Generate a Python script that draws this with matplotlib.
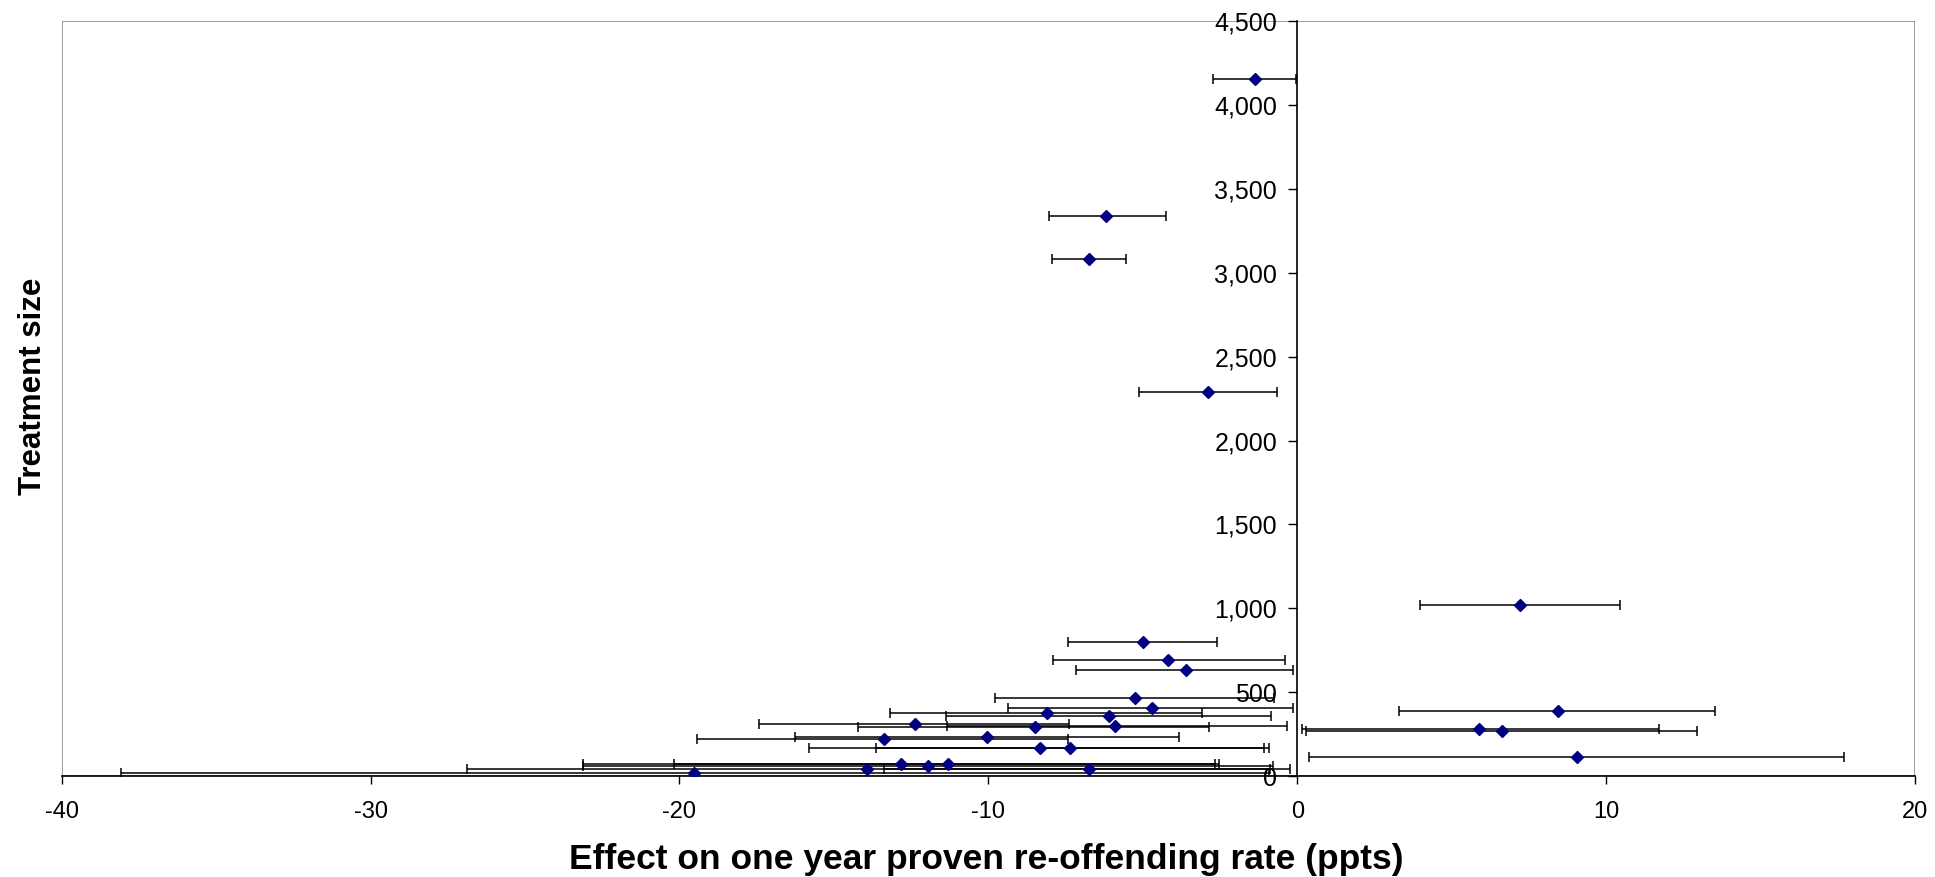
import matplotlib
matplotlib.use("Agg")
import matplotlib.pyplot as plt
from matplotlib.patches import Rectangle
from matplotlib.ticker import FuncFormatter
import numpy as np

plt.rcParams['font.family'] = ['Liberation Sans', 'DejaVu Sans']
plt.rcParams['axes.unicode_minus'] = False

# Effect estimate (ppts), treatment size, lower and upper confidence limits
effect = [-1.36, -6.18, -6.73, -2.88, 7.20,
          -4.99, -4.18, -3.61, -5.26, -4.70, -8.11, -6.08,
          -12.39, -8.48, -5.91, -13.38, -10.03, -8.32, -7.36,
          -19.54, -13.93, -12.83, -11.95, -11.30, -6.73,
          8.43, 5.89, 6.62, 9.07]
size = [4155, 3338, 3083, 2291, 1020,
        798, 694, 633, 466, 406, 379, 361,
        309, 291, 299, 224, 232, 168, 168,
        19, 45, 73, 63, 73, 45,
        388, 281, 271, 114]
lower = [-2.73, -8.05, -7.94, -5.13, 3.97,
         -7.43, -7.91, -7.15, -9.79, -9.35, -13.17, -11.37,
         -17.42, -14.22, -11.33, -19.42, -16.25, -15.82, -13.63,
         -38.07, -26.88, -23.12, -23.12, -20.17, -13.38,
         3.31, 0.15, 0.28, 0.39]
upper = [-0.05, -4.25, -5.53, -0.64, 10.45,
         -2.60, -0.40, -0.13, -0.76, -0.15, -3.08, -0.84,
         -7.38, -2.87, -0.34, -7.42, -3.84, -0.90, -1.08,
         -0.90, -0.87, -2.53, -0.80, -2.65, -0.24,
         13.51, 11.70, 12.93, 17.69]

x_ticks = [-40, -30, -20, -10, 0, 10, 20]
y_ticks = [0, 500, 1000, 1500, 2000, 2500, 3000, 3500, 4000, 4500]

W, H = 1935, 877
fig = plt.figure(figsize=(W / 100, H / 100), dpi=100)
ax = fig.add_axes([61.7 / W, 1 - 776.2 / H, (1915 - 61.7) / W, (776.2 - 21) / H])

e = np.array(effect)
lo = np.array(lower)
hi = np.array(upper)
ax.errorbar(e, size, xerr=[e - lo, hi - e], fmt='D', color='#000080',
            markersize=6.5, markeredgecolor='#000080', ecolor='black',
            elinewidth=1.1, capsize=3.3, capthick=1.1, zorder=3)

ax.set_xlim(-40, 20)
ax.set_ylim(0, 4500)
ax.set_xticks(x_ticks)
ax.set_yticks(y_ticks)
ax.yaxis.set_major_formatter(FuncFormatter(lambda v, p: f"{int(v):,}"))

for s in ['top', 'right']:
    ax.spines[s].set_visible(False)
ax.spines['left'].set_position(('data', 0))
ax.spines['bottom'].set_position(('data', 0))
ax.spines['left'].set_color('black')
ax.spines['bottom'].set_color('black')
ax.spines['left'].set_linewidth(1.2)
ax.spines['bottom'].set_linewidth(1.2)
ax.add_patch(Rectangle((0, 0), 1, 1, transform=ax.transAxes, fill=False,
                       edgecolor='#8c8c8c', linewidth=1.2, zorder=0))

ax.tick_params(axis='x', direction='out', length=6, width=1, pad=12,
               labelsize=17, colors='black')
ax.tick_params(axis='y', direction='out', length=6.5, width=1, pad=8,
               labelsize=18, colors='black')

fig.text(986 / W, 1 - 859 / H, 'Effect on one year proven re-offending rate (ppts)',
         ha='center', va='center', fontsize=25.5, fontweight='bold')
fig.text(33 / W, 1 - 386 / H, 'Treatment size', ha='center', va='center',
         rotation=90, fontsize=22.5, fontweight='bold')

fig.savefig('out.png', dpi=100)
